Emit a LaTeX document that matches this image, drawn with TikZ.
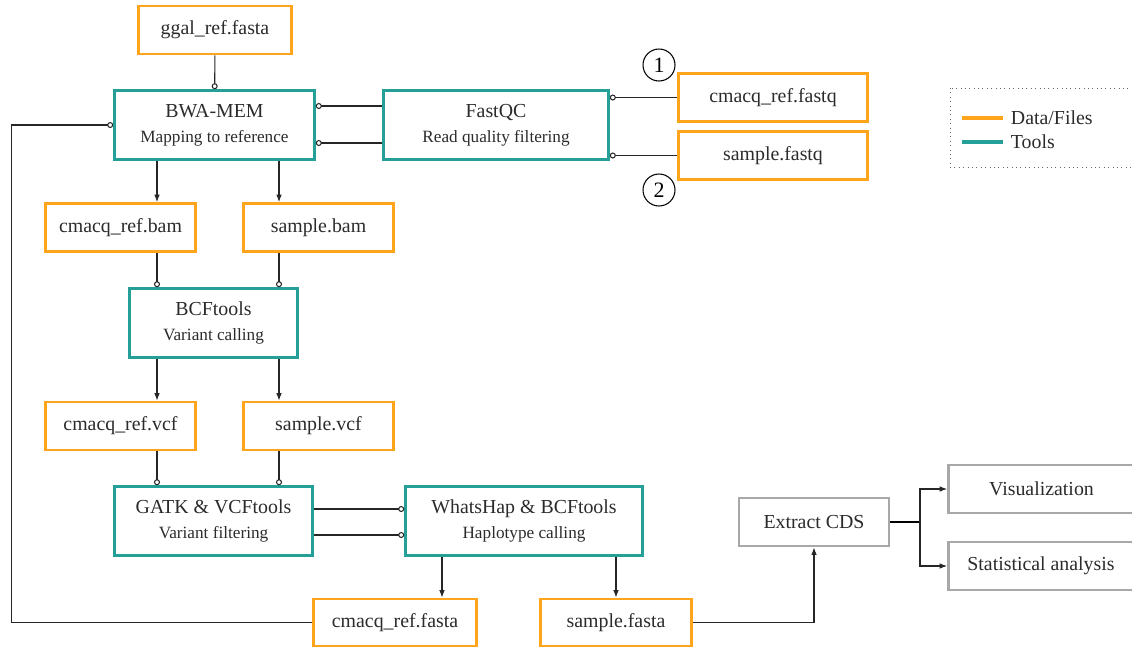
\documentclass[tikz,border=0pt]{standalone}
\usepackage{fontspec}
\setmainfont{Liberation Serif}
\usetikzlibrary{arrows.meta,calc}
\definecolor{orangeD}{HTML}{FFA41B}
\definecolor{tealT}{HTML}{24A098}
\definecolor{grauK}{HTML}{A8A8A8}
\definecolor{schrift}{HTML}{2B2B2B}
\newcommand{\unter}[1]{{\fontsize{9.8}{12}\selectfont #1}}
\tikzset{
  datei/.style={draw=orangeD,line width=1.5pt,minimum height=0.96cm,text=schrift,font=\fontsize{11.3}{14}\selectfont},
  werkz/.style={draw=tealT,line width=1.5pt,minimum height=1.38cm,align=center,text=schrift,font=\fontsize{11.3}{14}\selectfont},
  extra/.style={draw=grauK,line width=1.5pt,minimum height=0.96cm,text=schrift,font=\fontsize{11.3}{14}\selectfont},
  verb/.style={-{Circle[open,length=1.2mm]},line width=0.6pt,black!85},
  pfeil/.style={-{Latex[length=1.5mm,width=1.1mm]},line width=0.6pt,black!85},
  kreis/.style={circle,draw,line width=0.6pt,minimum size=0.64cm,inner sep=0pt,font=\fontsize{12.5}{14}\selectfont},
}
\begin{document}
\begin{tikzpicture}[x=0.02cm,y=-0.02cm]
  \useasboundingbox (0,0) rectangle (1132,647);
  \clip (0,0) rectangle (1132,647);
  % Tools
  \node[werkz,minimum width=4.0cm] (bwa) at (214.5,125) {BWA-MEM\\\unter{Mapping to reference}};
  \node[werkz,minimum width=4.5cm] (fastqc) at (496,125) {FastQC\\\unter{Read quality filtering}};
  \node[werkz,minimum width=3.36cm] (bcf) at (213.5,323) {BCFtools\\\unter{Variant calling}};
  \node[werkz,minimum width=3.96cm] (gatk) at (213.5,521) {GATK \& VCFtools\\\unter{Variant filtering}};
  \node[werkz,minimum width=4.74cm] (whats) at (524,521) {WhatsHap \& BCFtools\\\unter{Haplotype calling}};
  % Daten
  \node[datei,minimum width=3.06cm] (ggal) at (215,30) {ggal\_ref.fasta};
  \node[datei,minimum width=3.78cm] (cfq) at (773,97.5) {cmacq\_ref.fastq};
  \node[datei,minimum width=3.78cm] (sfq) at (773,155.5) {sample.fastq};
  \node[datei,minimum width=3.0cm] (cbam) at (120.5,227.5) {cmacq\_ref.bam};
  \node[datei,minimum width=3.0cm] (sbam) at (318.5,227.5) {sample.bam};
  \node[datei,minimum width=3.0cm] (cvcf) at (120.5,426) {cmacq\_ref.vcf};
  \node[datei,minimum width=3.0cm] (svcf) at (318.5,426) {sample.vcf};
  \node[datei,minimum width=3.26cm,minimum height=0.94cm] (cfa) at (395,622.5) {cmacq\_ref.fasta};
  \node[datei,minimum width=3.02cm,minimum height=0.94cm] (sfa) at (616,622.5) {sample.fasta};
  % Auswertung
  \node[extra,minimum width=3.0cm] (cds) at (814,522) {Extract CDS};
  \node[extra,minimum width=3.9cm] (vis) at (1046,489) {\hspace*{-0.18cm}Visualization};
  \node[extra,minimum width=3.9cm] (stat) at (1046,566) {\hspace*{-0.2cm}Statistical analysis};
  \node[kreis] (eins) at (659,65) {1};
  \node[kreis] (zwei) at (659,190) {2};
  % Legende
  \draw[dotted,line width=0.5pt,black!60] (950,88) rectangle (1160,167);
  \draw[orangeD,line width=2.4pt] (962,118) -- (1003,118) node[right,text=schrift,font=\fontsize{11.3}{14}\selectfont] (lda) {Data/Files};
  \draw[tealT,line width=2.4pt] (962,142) -- (1003,142) node[right,text=schrift,font=\fontsize{11.3}{14}\selectfont] (ltl) {Tools};
  % Verbindungen
  \coordinate (li) at (157,0);
  \coordinate (re) at (279,0);
  \draw[verb] (ggal) -- (bwa);
  \draw[verb] ([yshift=0.38cm]fastqc.west) -- ([yshift=0.38cm]bwa.east);
  \draw[verb] ([yshift=-0.36cm]fastqc.west) -- ([yshift=-0.36cm]bwa.east);
  \draw[verb] (cfq.west) -- (fastqc.east |- cfq.west);
  \draw[verb] (sfq.west) -- (fastqc.east |- sfq.west);
  \draw[pfeil] (bwa.south -| li) -- (cbam.north -| li);
  \draw[pfeil] (bwa.south -| re) -- (sbam.north -| re);
  \draw[verb] (cbam.south -| li) -- (bcf.north -| li);
  \draw[verb] (sbam.south -| re) -- (bcf.north -| re);
  \draw[pfeil] (bcf.south -| li) -- (cvcf.north -| li);
  \draw[pfeil] (bcf.south -| re) -- (svcf.north -| re);
  \draw[verb] (cvcf.south -| li) -- (gatk.north -| li);
  \draw[verb] (svcf.south -| re) -- (gatk.north -| re);
  \draw[verb] ([yshift=0.24cm]gatk.east) -- ([yshift=0.24cm]whats.west);
  \draw[verb] ([yshift=-0.28cm]gatk.east) -- ([yshift=-0.28cm]whats.west);
  \draw[pfeil] (whats.south -| 442,0) -- (cfa.north -| 442,0);
  \draw[pfeil] (whats.south -| sfa.north) -- (sfa.north);
  \draw[verb] (cfa.west) -- ++(-301,0) |- (bwa.west);
  \draw[pfeil] (sfa.east) -| (cds.south);
  \coordinate (gabel) at (920,522);
  \draw[line width=1.5pt] (cds.east) -- (gabel);
  \draw[pfeil] (gabel) |- (vis.west);
  \draw[pfeil] (gabel) |- (stat.west);
\end{tikzpicture}
\end{document}
